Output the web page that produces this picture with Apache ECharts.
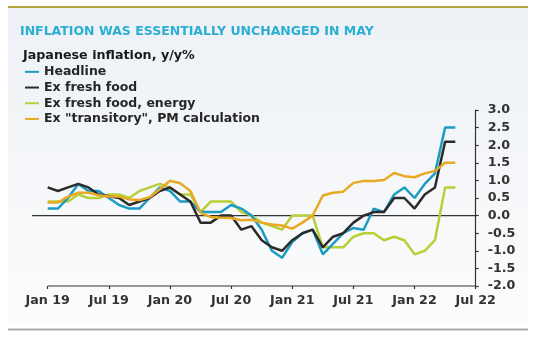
<!DOCTYPE html>
<html>
<head>
<meta charset="utf-8">
<script src="https://cdn.jsdelivr.net/npm/echarts@6/dist/echarts.min.js"></script>
<style>
html,body{margin:0;padding:0;background:#fff;}
#chart{width:538px;height:340px;}
</style>
</head>
<body>
<div id="chart"></div>
<script>
// Month index 0 = Jan 2019
const tickLabels = ['Jan 19','Jul 19','Jan 20','Jul 20','Jan 21','Jul 21','Jan 22','Jul 22'];
const tickMonths = [0,6,12,18,24,30,36,42];
const seriesNames = ['Headline','Ex fresh food','Ex fresh food, energy','Ex "transitory", PM calculation'];
const headline = [0.2,0.2,0.5,0.9,0.7,0.7,0.5,0.3,0.2,0.2,0.5,0.8,
  0.7,0.4,0.4,0.1,0.1,0.1,0.3,0.2,0.0,-0.4,-1.0,-1.2,
  -0.75,-0.5,-0.4,-1.1,-0.8,-0.5,-0.35,-0.4,0.2,0.1,0.6,0.8,
  0.5,0.9,1.2,2.5,2.5];
const exFreshFood = [0.8,0.7,0.8,0.9,0.8,0.6,0.55,0.5,0.3,0.4,0.5,0.7,
  0.8,0.6,0.4,-0.2,-0.2,0.0,0.0,-0.4,-0.3,-0.7,-0.9,-1.0,
  -0.7,-0.5,-0.4,-0.9,-0.6,-0.5,-0.2,0.0,0.1,0.1,0.5,0.5,
  0.2,0.6,0.8,2.1,2.1];
const exFreshFoodEnergy = [0.4,0.4,0.4,0.6,0.5,0.5,0.6,0.6,0.5,0.7,0.8,0.9,
  0.8,0.6,0.6,0.1,0.4,0.4,0.4,0.1,0.0,-0.2,-0.3,-0.4,
  0.0,0.0,0.0,-0.9,-0.9,-0.9,-0.6,-0.5,-0.5,-0.7,-0.6,-0.7,
  -1.1,-1.0,-0.7,0.8,0.8];
const exTransitory = [0.37,0.37,0.54,0.65,0.65,0.58,0.54,0.54,0.46,0.44,0.52,0.75,
  0.99,0.92,0.7,0.08,-0.04,-0.06,-0.07,-0.13,-0.12,-0.2,-0.25,-0.28,
  -0.37,-0.2,0.0,0.57,0.65,0.68,0.93,0.98,0.98,1.01,1.21,1.12,
  1.09,1.2,1.27,1.5,1.5];
const xMin = -1.54, xMax = 42, yMin = -2, yMax = 3;

const colors = ['#1c9cc2','#2b2b2b','#b8cf36','#e8a924'];
const allValues = [headline, exFreshFood, exFreshFoodEnergy, exTransitory];
const font = 'DejaVu Sans';

const chart = echarts.init(document.getElementById('chart'), null, {renderer:'canvas'});
const refLine = (name, pts) => ({
  type: 'line', name: name, data: pts, silent: true, animation: false, clip: false,
  symbol: 'none', showSymbol: false, z: 1,
  lineStyle: {color: '#333', width: 1.2}, tooltip: {show: false}
});
const series = [
  refLine('zeroLine', [[xMin, 0], [xMax, 0]]),
  refLine('baseLine', [[0, yMin], [xMax, yMin]])
];
allValues.forEach((vals, k) => series.push({
  name: seriesNames[k],
  type: 'line',
  data: vals.map((v, i) => [i, v]),
  showSymbol: false,
  symbol: 'none',
  lineStyle: {width: 2.5, color: colors[k]},
  itemStyle: {color: colors[k]},
  z: [3,4,2,5][k],
  animation: false
}));

chart.setOption({
  animation: false,
  backgroundColor: 'transparent',
  graphic: [
    {type: 'rect', shape: {x: 8, y: 7, width: 520, height: 318}, z: -10,
     style: {fill: new echarts.graphic.LinearGradient(0,0,0,1,[{offset:0,color:'#edf1f5'},{offset:1,color:'#fcfcfd'}])}},
    {type: 'rect', shape: {x: 8, y: 6, width: 520, height: 2}, z: -9, style: {fill: '#b5a53e'}},
    {type: 'rect', shape: {x: 8, y: 328.5, width: 520, height: 2}, z: -9, style: {fill: '#a7a9ab'}}
  ],
  title: [
    {text: 'INFLATION WAS ESSENTIALLY UNCHANGED IN MAY', left: 20, top: 24, padding: 0,
     textStyle: {fontFamily: font, fontWeight: 'bold', fontSize: 12.5, color: '#2aaed3', lineHeight: 16}},
    {text: 'Japanese inflation, y/y%', left: 23, top: 48, padding: 0,
     textStyle: {fontFamily: font, fontWeight: 'bold', fontSize: 12.7, color: '#1a1a1a', lineHeight: 16}}
  ],
  legend: {
    data: seriesNames, orient: 'vertical', left: 25, top: 64,
    icon: 'rect', itemWidth: 14, itemHeight: 2, itemGap: 0,
    textStyle: {fontFamily: font, fontWeight: 'bold', fontSize: 12.5, color: '#262626', lineHeight: 15.7},
    selectedMode: false, padding: 0
  },
  grid: {left: 32, right: 62.3, top: 110, bottom: 54, containLabel: false},
  xAxis: {
    type: 'value', min: xMin, max: xMax,
    axisLine: {show: false, onZero: false},
    splitLine: {show: false},
    axisTick: {show: true, customValues: tickMonths, length: 3, lineStyle: {color: '#333', width: 1.2}},
    axisLabel: {customValues: tickMonths, margin: 8,
      formatter: v => tickLabels[tickMonths.indexOf(v)] || '',
      fontFamily: font, fontWeight: 'bold', fontSize: 12.7, color: '#333'}
  },
  yAxis: {
    type: 'value', position: 'right', min: yMin, max: yMax, interval: 0.5,
    axisLine: {show: true, onZero: false, lineStyle: {color: '#333', width: 1.2}},
    axisTick: {show: true, length: 3, lineStyle: {color: '#333', width: 1.2}},
    splitLine: {show: false},
    axisLabel: {margin: 12, formatter: v => v.toFixed(1),
      fontFamily: font, fontWeight: 'bold', fontSize: 12.7, color: '#333'}
  },
  series: series
});
</script>
</body>
</html>
